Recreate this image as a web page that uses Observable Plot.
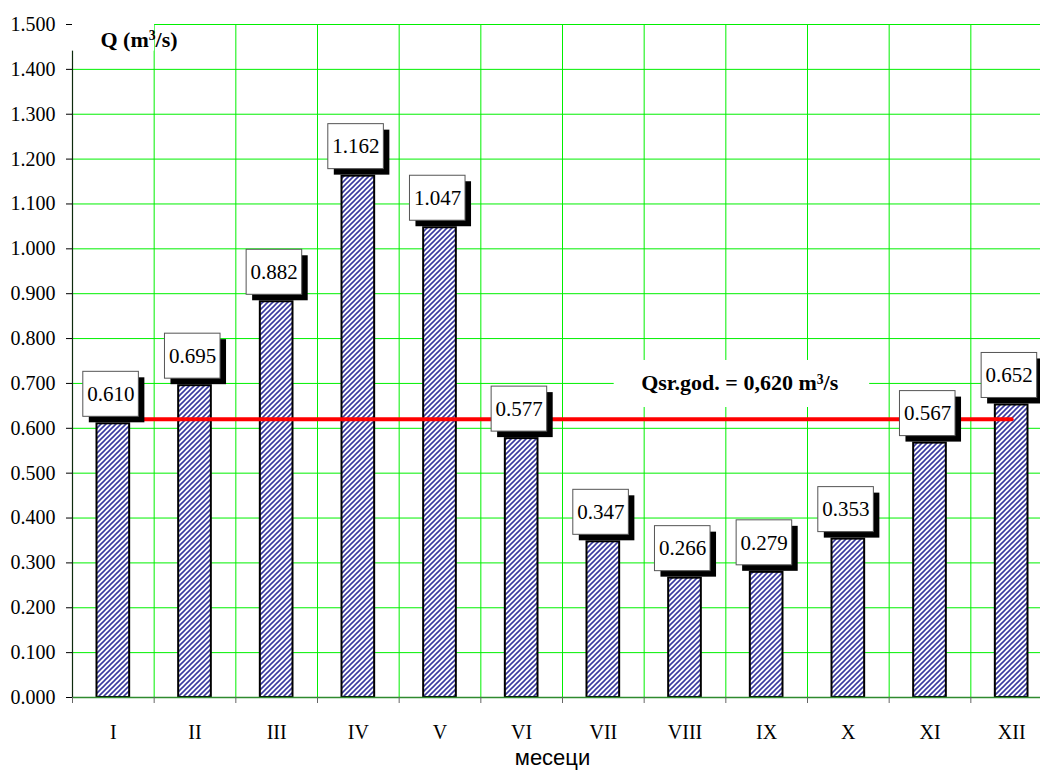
<!DOCTYPE html>
<html>
<head>
<meta charset="utf-8">
<script src="https://cdn.jsdelivr.net/npm/d3@7"></script>
<script src="https://cdn.jsdelivr.net/npm/@observablehq/plot@0.6"></script>
<style>
  html, body { margin: 0; padding: 0; background: #fff; overflow: hidden; }
  #chart svg text { font-family: 'Liberation Serif', 'Times New Roman', serif; }
</style>
</head>
<body>
<div id="chart"></div>
<script>
// ---- data ----
const months = ["I", "II", "III", "IV", "V", "VI", "VII", "VIII", "IX", "X", "XI", "XII"];
const flows = [0.610, 0.695, 0.882, 1.162, 1.047, 0.577, 0.347, 0.266, 0.279, 0.353, 0.567, 0.652];
const meanFlow = 0.620;
const yTicks = d3.range(0, 16).map(i => i / 10);
const yTitle = "Q (m³/s)";
const meanLabel = "Qsr.god. = 0,620 m³/s";
const xTitle = "месеци";

const data = months.map((m, i) => ({month: m, i, flow: flows[i]}));
const fmt = d3.format(".3f");

const plot = Plot.plot({
  width: 1040,
  height: 771,
  marginLeft: 72,
  marginRight: 0,
  marginTop: 24,
  marginBottom: 74,
  style: {background: "#fff", color: "#000"},
  x: {type: "linear", domain: [0, 12], range: [72, 1052]},
  y: {domain: [0, 1.5]},
  marks: [
    // grid
    Plot.ruleY(yTicks.slice(1), {stroke: "#00f000", strokeWidth: 1}),
    Plot.ruleX(d3.range(1, 12), {stroke: "#00f000", strokeWidth: 1}),
    // bars
    Plot.rect(data, {
      x1: d => d.i, x2: d => d.i + 1, y1: 0, y2: d => d.flow,
      insetLeft: 24.5, insetRight: 24.5,
      fill: "url(#hatch)", stroke: "#000", strokeWidth: 2
    }),
    // axes lines
    Plot.ruleY([0], {stroke: "#2f8a2f", strokeWidth: 1.5}),
    Plot.ruleX([0], {stroke: "#0d2a0d", strokeWidth: 1.2}),
    // mean line
    Plot.line(data, {x: d => d.i + 0.5, y: () => meanFlow, stroke: "#ff0000", strokeWidth: 4}),
    // value label shadows
    Plot.rect(data, {
      x1: d => d.i, x2: d => d.i + 1, y1: d => d.flow, y2: d => d.flow,
      insetTop: -52, insetBottom: 7, insetLeft: 10.8, insetRight: 15.3,
      dx: 6, dy: 6, fill: "#000"
    }),
    // value label boxes
    Plot.rect(data, {
      x1: d => d.i, x2: d => d.i + 1, y1: d => d.flow, y2: d => d.flow,
      insetTop: -52, insetBottom: 7, insetLeft: 10.8, insetRight: 15.3,
      fill: "#fff", stroke: "#555", strokeWidth: 1
    }),
    Plot.text(data, {
      x: d => d.i + 0.5, y: d => d.flow, text: d => fmt(d.flow),
      dy: -29.5, dx: -2.5, fontSize: 21, fill: "#000"
    }),
    // mean label
    Plot.text([meanLabel], {
      x: 8.17, y: 0.7, text: d => d, fontSize: 22, fontWeight: "bold", fill: "#000"
    }),
    // y title
    Plot.text([yTitle], {
      frameAnchor: "top-left", dx: 28, dy: 6.5, textAnchor: "start",
      text: d => d, fontSize: 22, fontWeight: "bold", fill: "#000"
    }),
    // axes
    Plot.axisY({
      ticks: yTicks, tickFormat: fmt, tickSize: 6, tickPadding: 11,
      fontSize: 20, label: null, color: "#000"
    }),
    Plot.axisX({
      ticks: d3.range(0, 12), tickFormat: () => "", tickSize: 6,
      label: null, color: "#666"
    }),
    Plot.axisX({
      ticks: d3.range(12).map(i => i + 0.5), tickFormat: d => months[Math.floor(d)],
      tickSize: 0, tickPadding: 27, fontSize: 20, label: null, color: "#000"
    }),
    Plot.text([xTitle], {
      frameAnchor: "bottom", dx: -4, dy: 67, text: d => d,
      fontSize: 22, fill: "#000"
    })
  ]
});

document.getElementById("chart").appendChild(plot);

const svg = d3.select(plot);
// hatch pattern
const defs = svg.insert("defs", ":first-child");
const pat = defs.append("pattern")
  .attr("id", "hatch")
  .attr("patternUnits", "userSpaceOnUse")
  .attr("width", 5).attr("height", 5);
pat.append("rect").attr("width", 5).attr("height", 5).attr("fill", "#fff");
pat.append("path")
  .attr("d", "M0,5 L5,0 M-1,1 L1,-1 M4,6 L6,4")
  .attr("stroke", "#3a3aa0").attr("stroke-width", 1.6);

function findText(str) {
  return svg.selectAll("text").filter(function() { return this.textContent === str; });
}

// x title in sans-serif
findText(xTitle).style("font-family", "'Liberation Sans', Arial, sans-serif");

// superscript 3 and white backgrounds behind the bold titles
function decorate(str, padL, padR, padT, padB) {
  const sel = findText(str);
  const node = sel.node();
  if (!node) return;
  const [pre, post] = str.split("³");
  sel.text(null);
  sel.append("tspan").text(pre);
  sel.append("tspan").attr("dy", "-0.45em").attr("font-size", "0.62em").text("3");
  sel.append("tspan").attr("dy", "0.28em").text(post);
  const bb = node.getBBox();
  const g = node.parentNode;
  d3.select(g.parentNode).insert("rect", () => g)
    .attr("x", bb.x - padL).attr("y", bb.y - padT)
    .attr("width", bb.width + padL + padR).attr("height", bb.height + padT + padB)
    .attr("transform", node.getAttribute("transform") || g.getAttribute("transform"))
    .attr("fill", "#fff");
}
decorate(meanLabel, 27, 31, 10, 12);
decorate(yTitle, 5, 5, 14, 6);
</script>
</body>
</html>
